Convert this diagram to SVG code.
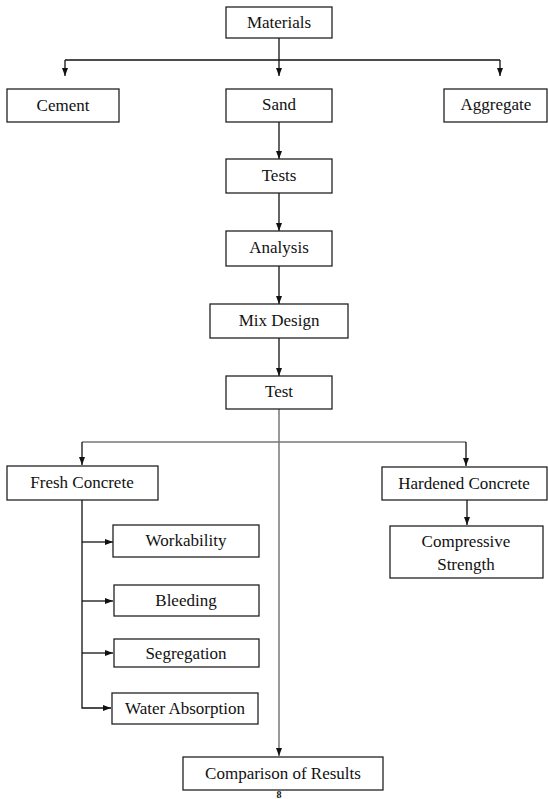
<svg xmlns="http://www.w3.org/2000/svg" width="548" height="799" viewBox="0 0 548 799">
<style>
.box{fill:#fff;stroke:#222;stroke-width:1.3}
.t{font-family:'Liberation Serif','Times New Roman',Times,'DejaVu Serif',serif;font-size:17px;fill:#111;text-anchor:middle}
.c{fill:none;stroke:#111;stroke-width:1.3}
.g{fill:none;stroke:#777;stroke-width:1.5}
</style>
<defs>
<marker id="ah" markerUnits="userSpaceOnUse" markerWidth="8" markerHeight="8" viewBox="0 0 8 8" refX="8" refY="4" orient="auto">
<path d="M0,1 L8,4 L0,7 Z" fill="#111"/>
</marker>
</defs>
<rect width="548" height="799" fill="#fff"/>
<g id="connectors">
<path class="c" d="M279,38 V60"/>
<path class="c" d="M65,60 H500"/>
<path class="c" d="M65,60 V76" marker-end="url(#ah)"/>
<path class="c" d="M279,60 V76" marker-end="url(#ah)"/>
<path class="c" d="M500,60 V76" marker-end="url(#ah)"/>
<path class="c" d="M279,122 V159" marker-end="url(#ah)"/>
<path class="c" d="M279,193 V231" marker-end="url(#ah)"/>
<path class="c" d="M279,266 V304" marker-end="url(#ah)"/>
<path class="c" d="M279,338 V376" marker-end="url(#ah)"/>
<path class="g" d="M279,409 V756" marker-end="url(#ah)"/>
<path class="g" d="M82,442 H466"/>
<path class="c" d="M82,442 V465" marker-end="url(#ah)"/>
<path class="c" d="M466,442 V466" marker-end="url(#ah)"/>
<path class="c" d="M467,500 V525" marker-end="url(#ah)"/>
<path class="c" d="M82,500 V708 H111" marker-end="url(#ah)"/>
<path class="c" d="M82,542 H113" marker-end="url(#ah)"/>
<path class="c" d="M82,601 H113" marker-end="url(#ah)"/>
<path class="c" d="M82,653 H113" marker-end="url(#ah)"/>
</g>
<g class="t">
<g id="materials"><rect class="box" x="226" y="7" width="106" height="31"/><text x="279" y="28">Materials</text></g>
<g id="cement"><rect class="box" x="7" y="89" width="112" height="33"/><text x="63" y="111">Cement</text></g>
<g id="sand"><rect class="box" x="226" y="89" width="106" height="33"/><text x="279" y="110">Sand</text></g>
<g id="aggregate"><rect class="box" x="444" y="89" width="103" height="33"/><text x="496" y="110">Aggregate</text></g>
<g id="tests"><rect class="box" x="226" y="159" width="106" height="34"/><text x="279" y="181">Tests</text></g>
<g id="analysis"><rect class="box" x="226" y="231" width="106" height="35"/><text x="279" y="253">Analysis</text></g>
<g id="mixdesign"><rect class="box" x="210" y="304" width="138" height="34"/><text x="279" y="326">Mix Design</text></g>
<g id="test"><rect class="box" x="226" y="376" width="106" height="33"/><text x="279" y="397">Test</text></g>
<g id="fresh"><rect class="box" x="7" y="466" width="151" height="34"/><text x="82" y="488">Fresh Concrete</text></g>
<g id="hardened"><rect class="box" x="382" y="467" width="165" height="33"/><text x="464" y="489">Hardened Concrete</text></g>
<g id="compressive"><rect class="box" x="390" y="526" width="153" height="52"/><text x="466" y="547">Compressive</text><text x="466" y="570">Strength</text></g>
<g id="workability"><rect class="box" x="113" y="525" width="146" height="32"/><text x="186" y="546">Workability</text></g>
<g id="bleeding"><rect class="box" x="114" y="585" width="145" height="31"/><text x="186" y="606">Bleeding</text></g>
<g id="segregation"><rect class="box" x="114" y="639" width="145" height="28"/><text x="186" y="659">Segregation</text></g>
<g id="water"><rect class="box" x="112" y="693" width="146" height="31"/><text x="185" y="714">Water Absorption</text></g>
<g id="comparison"><rect class="box" x="183" y="757" width="200" height="33"/><text x="283" y="779">Comparison of Results</text></g>
<text x="279" y="798" style="font-size:10px;font-weight:bold">8</text>
</g>
</svg>
